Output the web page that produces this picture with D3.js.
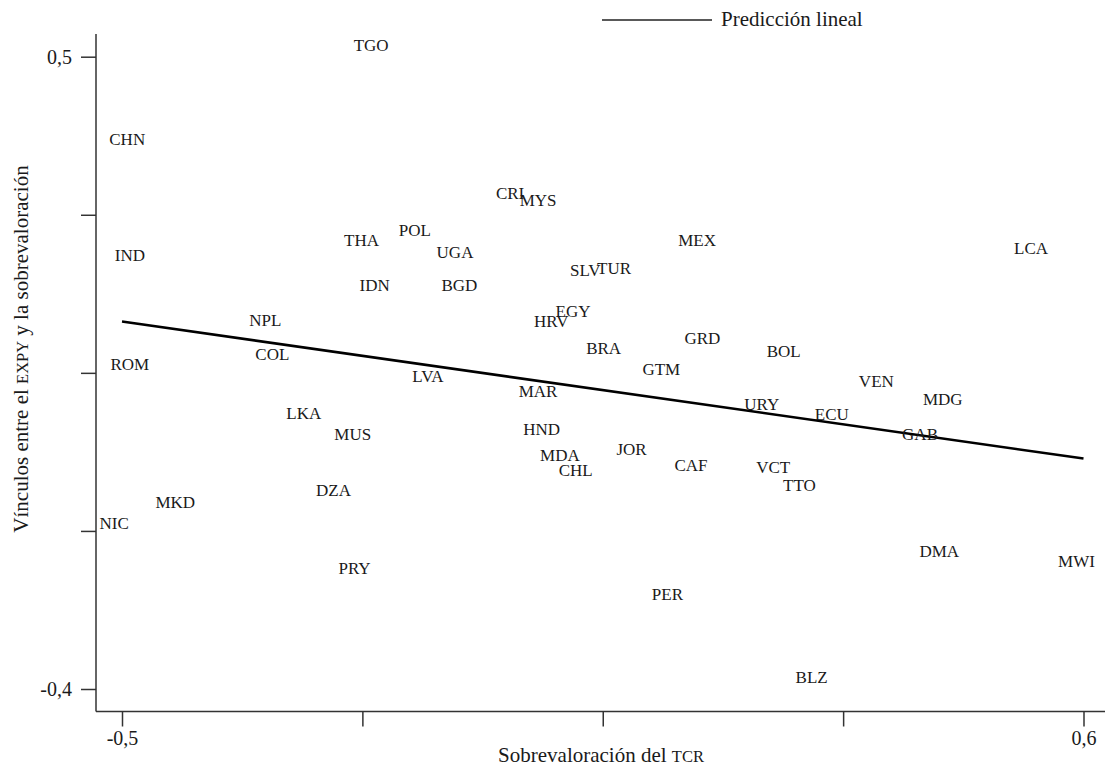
<!DOCTYPE html>
<html>
<head>
<meta charset="utf-8">
<script src="https://cdn.jsdelivr.net/npm/d3@7"></script>
<style>
  html, body { margin: 0; padding: 0; background: #fff; }
  svg { display: block; }
  text { font-family: "Liberation Serif", "Times New Roman", serif; fill: #1a1a1a; }
</style>
</head>
<body>
<svg id="chart" width="1105" height="769"></svg>
<script>
// Country codes and their coordinates: x = sobrevaloración del TCR, y = vínculo EXPY
const countries = ["TGO","CHN","IND","THA","IDN","CRI","MYS","POL","UGA","BGD","SLV","TUR","MEX","LCA",
  "NPL","COL","ROM","LKA","MUS","DZA","MKD","NIC","EGY","HRV","BRA","GRD","GTM","LVA","MAR","HND",
  "MDA","CHL","JOR","CAF","BOL","VEN","MDG","URY","ECU","GAB","VCT","TTO","PRY","PER","DMA","MWI","BLZ"];
const overvaluation = [-0.215,-0.494,-0.491,-0.226,-0.211,-0.056,-0.024,-0.165,-0.119,-0.114,0.030,0.063,0.158,0.540,
  -0.336,-0.328,-0.491,-0.292,-0.236,-0.258,-0.439,-0.509,0.016,-0.009,0.051,0.164,0.117,-0.150,-0.024,-0.020,
  0.001,0.019,0.083,0.151,0.257,0.363,0.439,0.232,0.312,0.413,0.245,0.275,-0.234,0.124,0.435,0.592,0.289];
const expyLink = [0.516,0.382,0.217,0.238,0.174,0.306,0.296,0.253,0.221,0.174,0.196,0.198,0.238,0.227,
  0.124,0.076,0.062,-0.007,-0.038,-0.117,-0.135,-0.164,0.138,0.123,0.085,0.099,0.055,0.045,0.024,-0.030,
  -0.068,-0.089,-0.059,-0.082,0.080,0.038,0.012,0.005,-0.009,-0.038,-0.084,-0.110,-0.229,-0.265,-0.204,-0.218,-0.384];

// Linear fit drawn across the x range
const fitX = [-0.5, 0.6];
const fitY = [0.123, -0.072];

// Axis ticks; only the extremes carry labels
const xTicks = [-0.5, -0.225, 0.05, 0.325, 0.6];
const yTicks = [0.5, 0.275, 0.05, -0.175, -0.4];
const xTickLabels = ["-0,5", "", "", "", "0,6"];
const yTickLabels = ["0,5", "", "", "", "-0,4"];

const svg = d3.select("#chart");
const axisX0 = 96, axisY0 = 711.5;

const x = d3.scaleLinear().domain([-0.5, 0.6]).range([122, 1083.5]);
const y = d3.scaleLinear().domain([-0.4, 0.5]).range([689, 56.7]);

// Axis lines
svg.append("line").attr("x1", axisX0).attr("x2", axisX0).attr("y1", 34).attr("y2", axisY0)
  .attr("stroke", "#333").attr("stroke-width", 1.5);
svg.append("line").attr("x1", axisX0).attr("x2", 1105).attr("y1", axisY0).attr("y2", axisY0)
  .attr("stroke", "#333").attr("stroke-width", 1.5);

// X axis ticks
const xAxis = d3.axisBottom(x).tickValues(xTicks).tickSize(15).tickPadding(4)
  .tickFormat((d, i) => xTickLabels[i]);
const gx = svg.append("g").attr("transform", `translate(0,${axisY0})`).call(xAxis);
gx.select(".domain").remove();
gx.selectAll(".tick line").attr("stroke", "#333").attr("stroke-width", 1.5);
gx.selectAll(".tick text").attr("font-size", 20).attr("font-family", "Liberation Serif").attr("fill", "#1a1a1a");

// Y axis ticks
const yAxis = d3.axisLeft(y).tickValues(yTicks).tickSize(15).tickPadding(9)
  .tickFormat((d, i) => yTickLabels[i]);
const gy = svg.append("g").attr("transform", `translate(${axisX0},0)`).call(yAxis);
gy.select(".domain").remove();
gy.selectAll(".tick line").attr("stroke", "#333").attr("stroke-width", 1.5);
gy.selectAll(".tick text").attr("font-size", 20).attr("font-family", "Liberation Serif").attr("fill", "#1a1a1a");

// Fit line
const line = d3.line().x(d => x(d[0])).y(d => y(d[1]));
svg.append("path").datum(d3.zip(fitX, fitY)).attr("d", line)
  .attr("fill", "none").attr("stroke", "#000").attr("stroke-width", 2.6);

// Country labels centred on their points
svg.append("g").selectAll("text").data(countries).join("text")
  .attr("x", (d, i) => x(overvaluation[i]))
  .attr("y", (d, i) => y(expyLink[i]))
  .attr("dy", "0.33em")
  .attr("text-anchor", "middle")
  .attr("font-size", 17)
  .text(d => d);

// Legend
svg.append("line").attr("x1", 602).attr("x2", 712).attr("y1", 20).attr("y2", 20)
  .attr("stroke", "#222").attr("stroke-width", 1.5);
svg.append("text").attr("x", 721).attr("y", 26).attr("font-size", 21).text("Predicción lineal");

// Axis titles
const xt = svg.append("text").attr("x", 601).attr("y", 762).attr("text-anchor", "middle").attr("font-size", 21);
xt.append("tspan").text("Sobrevaloración del ");
xt.append("tspan").attr("font-size", 16.5).text("TCR");

const yt = svg.append("text").attr("transform", "translate(28,349) rotate(-90)")
  .attr("text-anchor", "middle").attr("font-size", 21);
yt.append("tspan").text("Vínculos entre el ");
yt.append("tspan").attr("font-size", 16.5).text("EXPY");
yt.append("tspan").text(" y la sobrevaloración");
</script>
</body>
</html>
